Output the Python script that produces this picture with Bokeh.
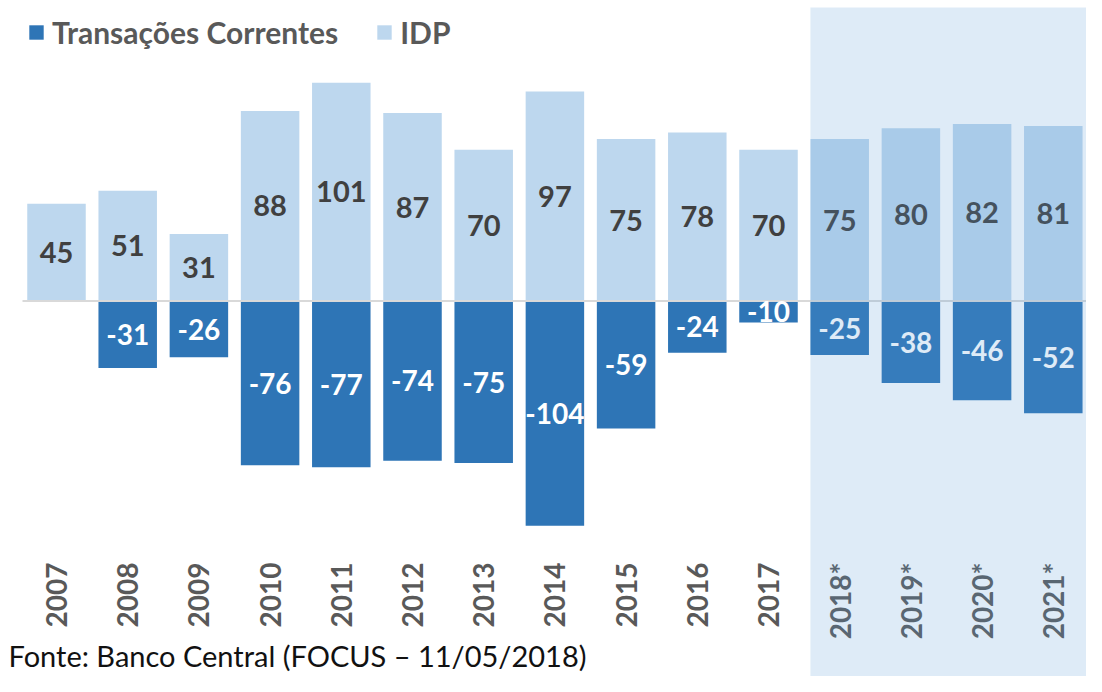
import math
from bokeh.plotting import figure
from bokeh.models import ColumnDataSource, Range1d, Legend, LegendItem, Label
from bokeh.core.properties import value
from bokeh.embed import file_html
from bokeh.resources import INLINE

years = ["2007", "2008", "2009", "2010", "2011", "2012", "2013", "2014",
         "2015", "2016", "2017", "2018*", "2019*", "2020*", "2021*"]
idp = [45, 51, 31, 88, 101, 87, 70, 97, 75, 78, 70, 75, 80, 82, 81]
tc = [None, -31, -26, -76, -77, -74, -75, -104, -59, -24, -10, -25, -38, -46, -52]
forecast_start = "2018*"
footer = "Fonte: Banco Central  (FOCUS \u2013 11/05/2018)"

C_TC = "#2E75B6"
C_IDP = "#BDD7EE"
FONT = "Lato"

W, H = 1086, 676
center0 = 56.0
px_per_cat = 71.2
x_start = -center0 / px_per_cat
x_end = x_start + W / px_per_cat
px_per_unit = 2.16
zero_px = 300.5
y_top = zero_px / px_per_unit
y_bot = -(H - zero_px) / px_per_unit

xs = list(range(len(years)))
idp_src = ColumnDataSource(dict(x=xs, top=idp, mid=[v / 2 for v in idp],
                                lab=[str(v) for v in idp]))
tc_x = [i for i, v in zip(xs, tc) if v is not None]
tc_v = [v for v in tc if v is not None]
tc_src = ColumnDataSource(dict(x=tc_x, top=tc_v, mid=[v / 2 for v in tc_v],
                               lab=[str(v) for v in tc_v]))

p = figure(width=W, height=H, output_backend="svg", toolbar_location=None,
           x_range=Range1d(x_start, x_end), y_range=Range1d(y_bot, y_top),
           min_border=0, outline_line_color=None)
p.xaxis.visible = False
p.yaxis.visible = False
p.xgrid.visible = False
p.ygrid.visible = False
p.background_fill_color = "white"

bw = 58.5 / px_per_cat
r_tc = p.vbar(x="x", top="top", bottom=0, width=bw, source=tc_src,
              fill_color=C_TC, line_color=None)
r_idp = p.vbar(x="x", top="top", bottom=0, width=bw, source=idp_src,
               fill_color=C_IDP, line_color=None)

p.segment(x0=[(22 - center0) / px_per_cat], y0=[0], x1=[x_end], y1=[0],
          line_color="#D9D9D9", line_width=2)

p.text(x="x", y="mid", text="lab", source=idp_src, text_font=value(FONT),
       text_font_style="bold", text_font_size="29px", text_color="#404040",
       text_align="center", text_baseline="middle")
p.text(x="x", y="mid", text="lab", source=tc_src, text_font=value(FONT),
       text_font_style="bold", text_font_size="28px", text_color="white",
       text_align="center", text_baseline="middle")

lab_y = (zero_px - 562) / px_per_unit
p.text(x=xs, y=[lab_y] * len(xs), text=years, angle=math.pi / 2,
       text_font=value(FONT), text_font_style="bold", text_font_size="28px",
       text_color="#595959", text_align="right", text_baseline="middle")

fi = years.index(forecast_start)
p.quad(left=[fi - bw / 2], right=[x_end + 1], top=[(zero_px - 7) / px_per_unit],
       bottom=[y_bot - 10], fill_color="#5B9BD5", fill_alpha=0.2, line_color=None)

legend = Legend(items=[LegendItem(label="Transações Correntes", renderers=[r_tc]),
                       LegendItem(label="IDP", renderers=[r_idp])],
                orientation="horizontal", location=(27, H - 50),
                glyph_width=18, glyph_height=18, label_standoff=7, spacing=37,
                padding=0, margin=0, border_line_color=None,
                background_fill_alpha=0,
                label_text_font=FONT, label_text_font_style="bold",
                label_text_font_size="30px", label_text_color="#595959")
p.add_layout(legend)

p.add_layout(Label(x=8, y=4, x_units="screen", y_units="screen", text=footer,
                   text_font=FONT, text_font_size="29px", text_color="#111111",
                   text_baseline="bottom"))

open("out.html", "w").write(file_html(p, INLINE))
